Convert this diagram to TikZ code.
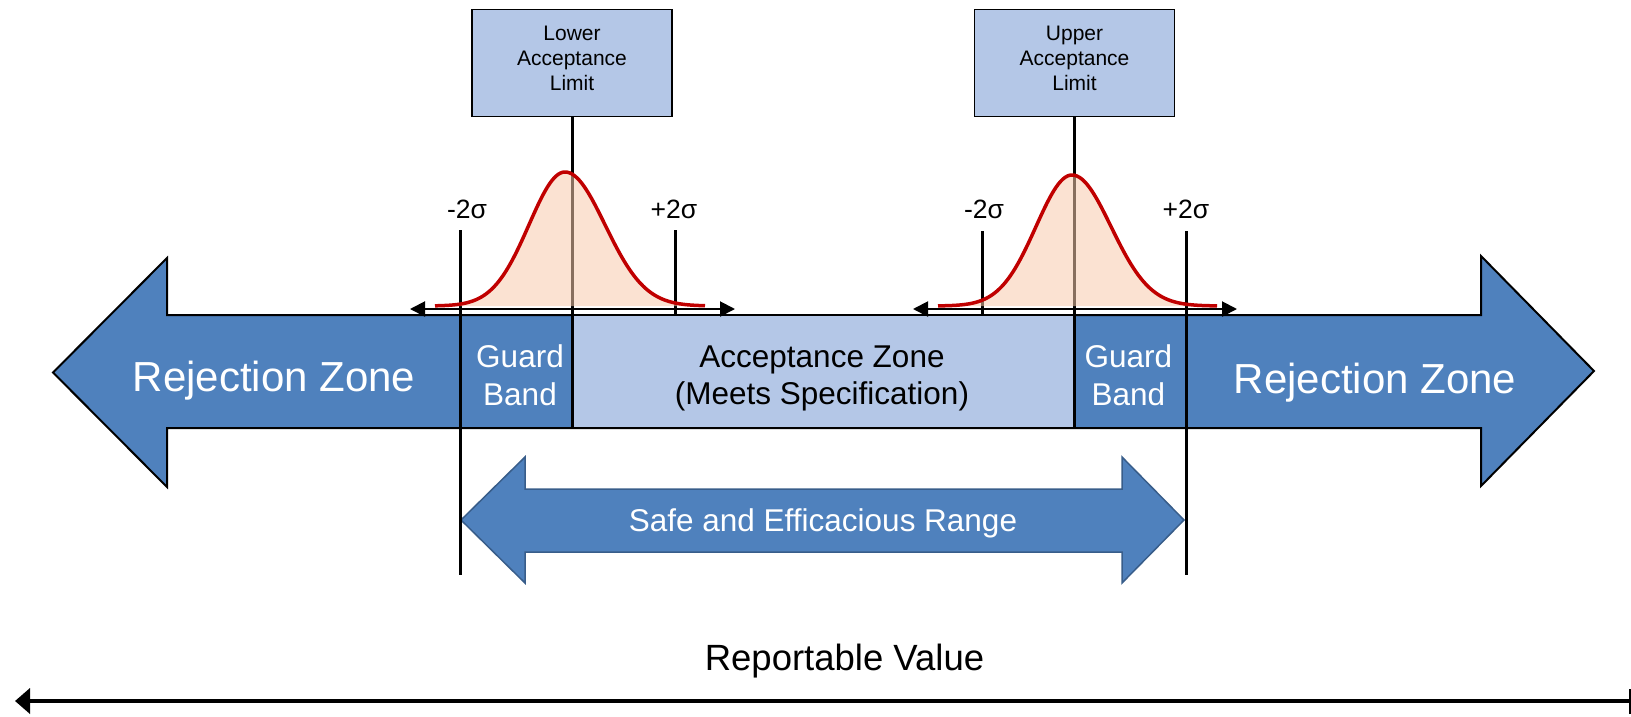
\documentclass[tikz,border=0pt]{standalone}
\usepackage{fontspec}
\setmainfont{Liberation Sans}[Ligatures=NoCommon]
\usetikzlibrary{arrows.meta}

\definecolor{zoneblue}{HTML}{4F81BD}
\definecolor{zoneedge}{HTML}{385D8A}
\definecolor{paleblue}{HTML}{B4C7E7}
\definecolor{bellpeach}{HTML}{F8CBAD}
\definecolor{bellred}{HTML}{C00000}

\tikzset{
  zonearrow/.style={fill=zoneblue, draw=black, line width=2pt, line join=miter},
  rangearrow/.style={fill=zoneblue, draw=zoneedge, line width=1.5pt, line join=miter},
  acczone/.style={fill=paleblue, draw=black, line width=2.5pt, inner sep=0pt,
    minimum width=502.5pt, minimum height=113pt},
  limitbox/.style={fill=paleblue, draw=black, line width=1.5pt, inner sep=0pt,
    minimum width=200pt, minimum height=107pt},
  vline/.style={draw=black, line width=3pt},
  spread/.style={draw=black, line width=2pt,
    {Triangle[length=15pt,width=15pt]}-{Triangle[length=15pt,width=15pt]}},
  bellfill/.style={fill=bellpeach, fill opacity=0.55},
  bellline/.style={draw=bellred, line width=3.5pt},
  txt/.style={inner sep=0pt, anchor=base},
  zonetext/.style={txt, text=white, font=\fontsize{42}{48}\selectfont},
  bandtext/.style={txt, font=\fontsize{31.5}{36}\selectfont},
  limittext/.style={txt, font=\fontsize{21}{25}\selectfont},
  sigmatext/.style={txt, font=\fontsize{26.5}{30}\selectfont},
  axistext/.style={txt, font=\fontsize{36.5}{42}\selectfont},
}

\begin{document}
\begin{tikzpicture}[x=1pt, y=-1pt]
\useasboundingbox (0,0) rectangle (1631,716);

% rejection zones: one wide double arrow behind the acceptance zone
\draw[zonearrow] (53,372.5) -- (167,258) -- (167,315) -- (1481,315) -- (1481,256)
  -- (1594,371) -- (1481,486) -- (1481,428) -- (167,428) -- (167,487) -- cycle;

% acceptance zone
\node[acczone] (acc) at (823.25,371.5) {};

% acceptance limit boxes
\node[limitbox] (lal) at (572,63) {};
\node[limitbox] (ual) at (1074.5,63) {};

% safe and efficacious range
\draw[rangearrow] (461,520) -- (525,457) -- (525,489) -- (1122,489) -- (1122,457)
  -- (1184,520) -- (1122,583) -- (1122,552) -- (525,552) -- (525,583) -- cycle;

% limit lines
\draw[vline] (lal.south) -- (lal.south |- acc.south);
\draw[vline] (ual.south) -- (ual.south |- acc.south);

% two-sigma lines
\coordinate (lm2top) at (460,230);
\coordinate (lm2bot) at (460,575);
\coordinate (lp2top) at (675,230);
\coordinate (lp2bot) at (675,315);
\coordinate (um2top) at (982,231);
\coordinate (um2bot) at (982,315);
\coordinate (up2top) at (1186,231);
\coordinate (up2bot) at (1186,575);
\draw[vline] (lm2top) -- (lm2bot);
\draw[vline] (lp2top) -- (lp2bot);
\draw[vline] (um2top) -- (um2bot);
\draw[vline] (up2top) -- (up2bot);

% measurement spread arrows
\coordinate (lsl) at (410,309);
\coordinate (lsr) at (735,309);
\coordinate (usl) at (913,309);
\coordinate (usr) at (1237,309);
\draw[spread] (lsl) -- (lsr);
\draw[spread] (usl) -- (usr);

% bell curves around each limit
\fill[bellfill] (435,306)
  -- plot[domain=435:565, samples=60] (\x,{306-134*exp(-0.5*((\x-565)/36)^2)})
  -- plot[domain=565:705, samples=60] (\x,{306-134*exp(-0.5*((\x-565)/40)^2)})
  -- (705,306) -- cycle;
\draw[bellline]
  plot[domain=435:565, samples=60] (\x,{306-134*exp(-0.5*((\x-565)/36)^2)})
  -- plot[domain=565:705, samples=60] (\x,{306-134*exp(-0.5*((\x-565)/40)^2)});
\fill[bellfill] (938,306)
  -- plot[domain=938:1072, samples=60] (\x,{306-131*exp(-0.5*((\x-1072)/36)^2)})
  -- plot[domain=1072:1217, samples=60] (\x,{306-131*exp(-0.5*((\x-1072)/39)^2)})
  -- (1217,306) -- cycle;
\draw[bellline]
  plot[domain=938:1072, samples=60] (\x,{306-131*exp(-0.5*((\x-1072)/36)^2)})
  -- plot[domain=1072:1217, samples=60] (\x,{306-131*exp(-0.5*((\x-1072)/39)^2)});

% labels
\node[zonetext] (rejl) at (274,391) {Rejection Zone};
\node[zonetext] (rejr) at (1375,393) {Rejection Zone};

\node[bandtext, text=white] (gbl1) at (520,367.5) {Guard};
\node[bandtext, text=white] (gbl2) at (520,405) {Band};
\node[bandtext, text=white] (gbr1) at (1128.3,367.5) {Guard};
\node[bandtext, text=white] (gbr2) at (1128.3,405) {Band};

\node[bandtext] (acc1) at (822,367) {Acceptance Zone};
\node[bandtext] (acc2) at (822,404) {(Meets Specification)};

\node[limittext] (lal1) at (572,40) {Lower};
\node[limittext] (lal2) at (572,65.3) {Acceptance};
\node[limittext] (lal3) at (572,90.7) {Limit};
\node[limittext] (ual1) at (1074.5,40) {Upper};
\node[limittext] (ual2) at (1074.5,65.3) {Acceptance};
\node[limittext] (ual3) at (1074.5,90.7) {Limit};

\node[sigmatext] (lm2) at (467,218) {-2σ};
\node[sigmatext] (lp2) at (674,218) {+2σ};
\node[sigmatext] (um2) at (984,218) {-2σ};
\node[sigmatext] (up2) at (1186,218) {+2σ};

\node[bandtext, text=white] (safe) at (823,531.5) {Safe and Efficacious Range};

% reportable value axis
\node[axistext] (axis) at (844.5,670) {Reportable Value};
\coordinate (axr) at (1630,701);
\coordinate (axl) at (15,701);
\draw[line width=4.8pt, -{Triangle[length=15pt,width=25pt]}] (axr) -- (axl);
\draw[line width=1.5pt] ([yshift=-13pt]axr) -- ([yshift=12pt]axr);
\end{tikzpicture}
\end{document}
